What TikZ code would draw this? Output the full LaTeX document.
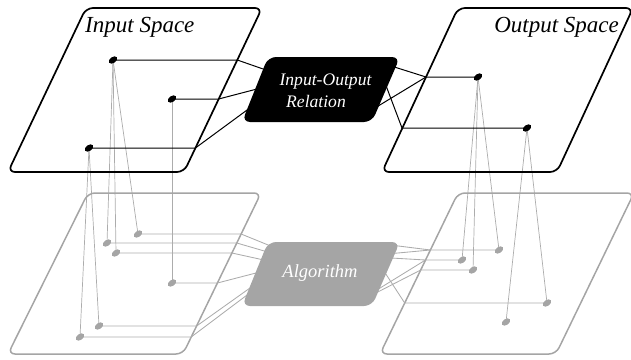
\documentclass[tikz,border=0pt]{standalone}
\usepackage{fontspec}
\setmainfont{Liberation Serif}
\usetikzlibrary{shapes.geometric}
\definecolor{lgray}{RGB}{172,172,172}
\definecolor{mgray}{RGB}{165,165,165}
\tikzset{
  space/.style={draw=black, line width=1.7pt, rounded corners=7pt, line join=round},
  gspace/.style={draw=mgray, line width=1.5pt, rounded corners=7pt, line join=round},
  conn/.style={draw=black, line width=1pt},
  gconn/.style={draw=lgray, line width=0.85pt},
  drop/.style={draw=lgray, line width=0.7pt},
  bdot/.style={ellipse, fill=black, minimum width=9.5pt, minimum height=6pt, inner sep=0pt, rotate=35},
  gdot/.style={bdot, fill=mgray},
  lab/.style={font=\fontsize{23}{27}\selectfont\itshape, inner sep=0pt},
  boxtxt/.style={font=\fontsize{17.6}{20}\selectfont\itshape, text=white, inner sep=0pt},
}
\begin{document}
\begin{tikzpicture}[x=1pt,y=-1pt]
\useasboundingbox (0,0) rectangle (631,359);
% dot positions
\coordinate (a1) at (113,60);
\coordinate (a2) at (172,99);
\coordinate (a3) at (89,148);
\coordinate (b1) at (478,77);
\coordinate (b2) at (527,128);
\coordinate (c1) at (138,234);
\coordinate (c2) at (107,243);
\coordinate (c3) at (116,253);
\coordinate (c4) at (172,283);
\coordinate (c5) at (99,326);
\coordinate (c6) at (80,337);
\coordinate (d1) at (499,250);
\coordinate (d2) at (462,260);
\coordinate (d3) at (473,270);
\coordinate (d4) at (547,303);
\coordinate (d5) at (506,322);
% edge points
\coordinate (ea1) at (237.3,60);
\coordinate (ea2) at (218.7,99);
\coordinate (ea3) at (195.4,148);
\coordinate (eb1) at (426,77);
\coordinate (eb2) at (402,128);
\coordinate (ec1) at (241.1,234);
\coordinate (ec2) at (236.8,243);
\coordinate (ec3) at (231.9,253);
\coordinate (ec4) at (217.4,283);
\coordinate (ec5) at (196.6,326);
\coordinate (ec6) at (191.2,337);
\coordinate (ed1) at (430.4,250);
\coordinate (ed2) at (425.5,260);
\coordinate (ed3) at (420.7,270);
\coordinate (ed4) at (404.7,303);
% box ports (hidden inside boxes)
\coordinate (ia1) at (276,73.5);
\coordinate (ia2) at (270,85.6);
\coordinate (ia3) at (260,100.5);
\coordinate (ob1) at (388,65);
\coordinate (ob2) at (365,114);
\coordinate (ob3) at (382,75);
\coordinate (ic1) at (278,249);
\coordinate (ic2) at (278,255);
\coordinate (ic3) at (273,262);
\coordinate (ic4) at (266,270.4);
\coordinate (ic5) at (257,283);
\coordinate (ic6) at (257,287.5);
\coordinate (od1) at (388,244.7);
\coordinate (od2) at (387,254);
\coordinate (od3) at (381,257.4);
\coordinate (od4) at (371,293.6);
\coordinate (od5) at (370,296);
\coordinate (od6) at (380,265);

% drops
\draw[drop] (a1) -- (c1);
\draw[drop] (a1) -- (c2);
\draw[drop] (a1) -- (c3);
\draw[drop] (a2) -- (c4);
\draw[drop] (a3) -- (c5);
\draw[drop] (a3) -- (c6);
\draw[drop] (b1) -- (d1);
\draw[drop] (b1) -- (d2);
\draw[drop] (b1) -- (d3);
\draw[drop] (b2) -- (d4);
\draw[drop] (b2) -- (d5);

% bottom level
\draw[gspace] (88,193) -- (261,193) -- (183,354) -- (8,354) -- cycle;
\draw[gspace] (458,193) -- (634,193) -- (556,354) -- (380,354) -- cycle;
\draw[gconn] (c1) -- (ec1) -- (ic1);
\draw[gconn] (c2) -- (ec2) -- (ic2);
\draw[gconn] (c3) -- (ec3) -- (ic3);
\draw[gconn] (c4) -- (ec4) -- (ic4);
\draw[gconn] (c5) -- (ec5) -- (ic5);
\draw[gconn] (c6) -- (ec6) -- (ic6);
\draw[gconn] (od1) -- (ed1) -- (d1);
\draw[gconn] (od2) -- (ed1);
\draw[gconn] (od3) -- (ed2) -- (d2);
\draw[gconn] (od4) -- (ed2);
\draw[gconn] (od5) -- (ed3) -- (d3);
\draw[gconn] (od6) -- (ed4) -- (d4);
\fill[mgray, rounded corners=8pt] (268,242) -- (400,242) -- (372,306) -- (242,306) -- cycle;
\node[boxtxt, font=\fontsize{18.5}{21}\selectfont\itshape, anchor=base] (alg) at (320,277) {Algorithm};
\foreach \p in {c1,c2,c3,c4,c5,c6,d1,d2,d3,d4,d5} \node[gdot] (\p dot) at (\p) {};

% top level
\draw[space] (86,8) -- (262,8) -- (184,172) -- (8,172) -- cycle;
\draw[space] (458,8) -- (633,8) -- (557,172) -- (382,172) -- cycle;
\draw[conn] (a1) -- (ea1) -- (ia1);
\draw[conn] (a2) -- (ea2) -- (ia2);
\draw[conn] (a3) -- (ea3) -- (ia3);
\draw[conn] (ob1) -- (eb1) -- (b1);
\draw[conn] (ob2) -- (eb1);
\draw[conn] (ob3) -- (eb2) -- (b2);
\fill[black, rounded corners=8pt] (268,57) -- (400,57) -- (372,122) -- (242,122) -- cycle;
\node[boxtxt, anchor=base] (rel1) at (325.5,85) {Input-Output};
\node[boxtxt, anchor=base] (rel2) at (316,107) {Relation};
\foreach \p in {a1,a2,a3,b1,b2} \node[bdot] (\p dot) at (\p) {};
\node[lab, anchor=base west] (inlab) at (85,32) {Input Space};
\node[lab, anchor=base east] (outlab) at (619,32) {Output Space};
\end{tikzpicture}
\end{document}
